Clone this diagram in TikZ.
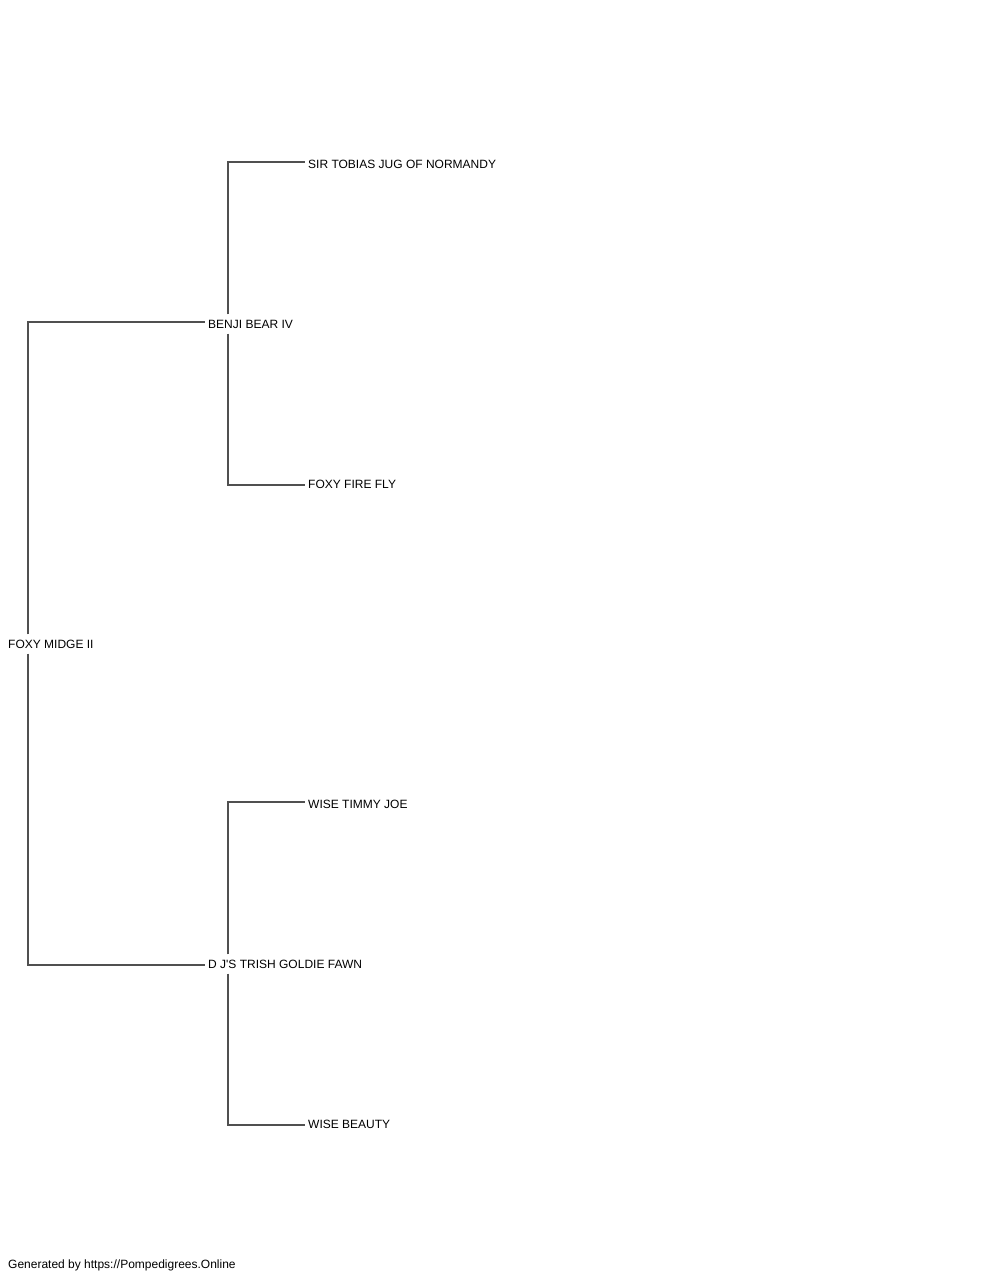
\documentclass[tikz,border=0pt]{standalone}
\usepackage{fontspec}
\setmainfont{Liberation Sans}
\definecolor{linecol}{RGB}{80,80,80}
\tikzset{
  pednode/.style={anchor=west, inner xsep=3pt, inner ysep=0pt, minimum height=19pt, font=\fontsize{12}{14}\selectfont, text height=8.6pt, text depth=0pt},
  link/.style={draw=linecol, line width=1.1pt}
}
\begin{document}
\begin{tikzpicture}[x=1pt,y=-1pt]
\useasboundingbox (0,0) rectangle (1000,1280);
% nodes
\node[pednode] (root) at (5,644) {FOXY MIDGE II};
\node[pednode] (sire) at (205,324) {BENJI BEAR IV};
\node[pednode] (dam) at (205,964) {D J\textquotesingle S TRISH GOLDIE FAWN};
\node[pednode] (ss) at (305,164) {SIR TOBIAS JUG OF NORMANDY};
\node[pednode] (sd) at (305,484) {FOXY FIRE FLY};
\node[pednode] (ds) at (305,804) {WISE TIMMY JOE};
\node[pednode] (dd) at (305,1124) {WISE BEAUTY};
\node[anchor=base west, inner sep=0pt, font=\fontsize{12}{14}\selectfont] (credit) at (8,1268) {Generated by https://Pompedigrees.Online};
% connectors
\coordinate (rx) at (28,0);
\coordinate (sx) at (228,0);
\draw[link] (root.north -| rx) |- ([yshift=2pt]sire.west);
\draw[link] (root.south -| rx) |- ([yshift=-1pt]dam.west);
\draw[link] (sire.north -| sx) |- ([yshift=2pt]ss.west);
\draw[link] (sire.south -| sx) |- ([yshift=-1pt]sd.west);
\draw[link] (dam.north -| sx) |- ([yshift=2pt]ds.west);
\draw[link] (dam.south -| sx) |- ([yshift=-1pt]dd.west);
\end{tikzpicture}
\end{document}
